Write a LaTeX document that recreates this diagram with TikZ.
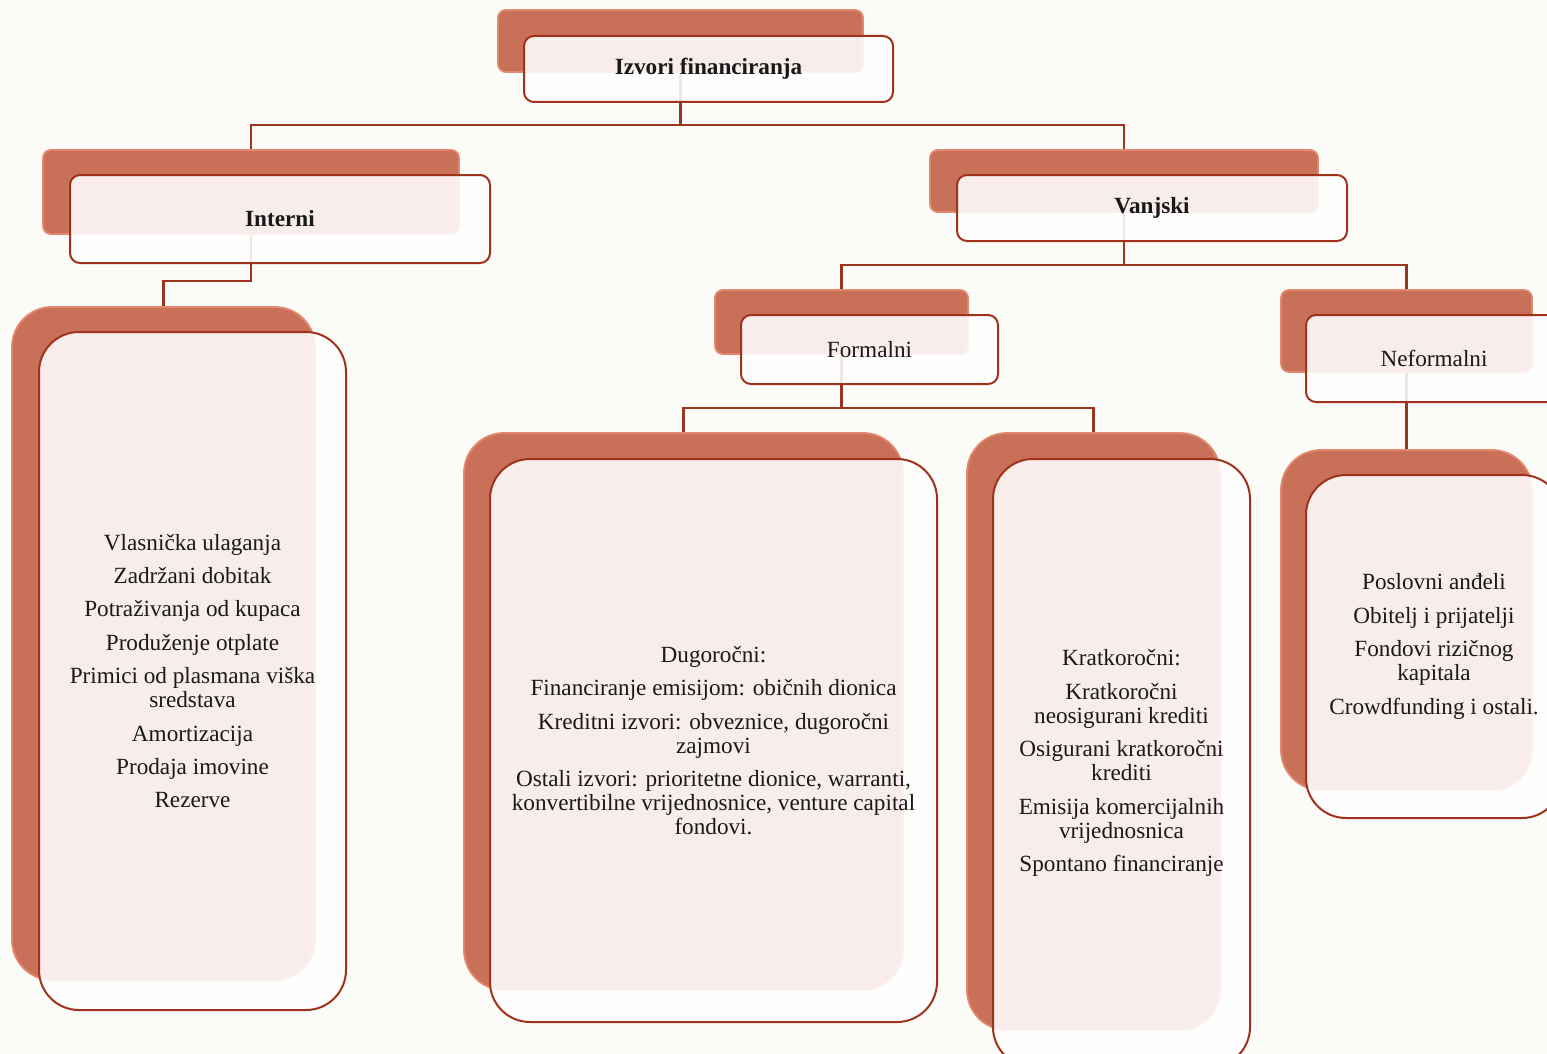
\documentclass[tikz,border=0pt]{standalone}
\usepackage{fontspec}
\setmainfont{Liberation Serif}

\definecolor{bgcream}{RGB}{251,251,247}
\definecolor{backorange}{RGB}{201,112,88}
\definecolor{backedge}{RGB}{226,136,110}
\definecolor{framered}{RGB}{160,50,28}
\definecolor{linkred}{RGB}{156,52,30}
\definecolor{inkgrey}{RGB}{25,25,25}

\begin{document}
\begin{tikzpicture}[x=0.5pt,y=-0.5pt,
  backbox/.style={draw=backedge,line width=0.9pt,fill=backorange,rounded corners=4pt,inner sep=0pt},
  backlist/.style={backbox,rounded corners=20pt},
  frontbox/.style={draw=framered,line width=1pt,fill=white,fill opacity=0.88,text opacity=1,draw opacity=1,rounded corners=5pt,inner sep=0pt,align=center,text=inkgrey,font=\fontsize{11.6}{12}\selectfont},
  frontlist/.style={frontbox,rounded corners=20pt},
  link/.style={draw=linkred,line width=1.4pt}]
\useasboundingbox (0,0) rectangle (1547,1054);
\clip (0,0) rectangle (1547,1054);
\fill[bgcream] (0,0) rectangle (1547,1054);

% back boxes
\node[backbox,minimum width=182.5pt,minimum height=31pt] (iz_back) at (680.5,41) {};
\node[backbox,minimum width=208pt,minimum height=42pt] (in_back) at (251,192) {};
\node[backbox,minimum width=194pt,minimum height=31pt] (va_back) at (1124,181) {};
\node[backbox,minimum width=126.5pt,minimum height=32pt] (fo_back) at (841.5,322) {};
\node[backbox,minimum width=125.5pt,minimum height=41pt] (ne_back) at (1406.5,331) {};
\node[backlist,minimum width=151.5pt,minimum height=336.5pt] (inl_back) at (163.5,643.5) {};
\node[backlist,minimum width=219.5pt,minimum height=278.5pt] (du_back) at (683.5,711.5) {};
\node[backlist,minimum width=126.5pt,minimum height=298.5pt] (kr_back) at (1093.5,731.5) {};
\node[backlist,minimum width=125.5pt,minimum height=170pt] (nel_back) at (1406.5,620) {};

% connectors
\coordinate (lvl_a) at (0,125);
\coordinate (lvl_b) at (0,281);
\coordinate (lvl_c) at (0,265);
\coordinate (lvl_d) at (0,408);
\draw[link] (iz_back.south) -- (iz_back.south |- lvl_a) -| (in_back.north);
\draw[link] (iz_back.south |- lvl_a) -| (va_back.north);
\draw[link] (in_back.south) -- (in_back.south |- lvl_b) -| (inl_back.north);
\draw[link] (va_back.south) -- (va_back.south |- lvl_c) -| (fo_back.north);
\draw[link] (va_back.south |- lvl_c) -| (ne_back.north);
\draw[link] (fo_back.south) -- (fo_back.south |- lvl_d) -| (du_back.north);
\draw[link] (fo_back.south |- lvl_d) -| (kr_back.north);
\draw[link] (ne_back.south) -- (nel_back.north);

% front boxes
\node[frontbox,minimum width=184.5pt,minimum height=33pt] (iz_front) at (708.5,69) {\textbf{Izvori financiranja}};
\node[frontbox,minimum width=210pt,minimum height=44pt] (in_front) at (280,219) {\textbf{Interni}};
\node[frontbox,minimum width=195pt,minimum height=33pt] (va_front) at (1152,208) {\textbf{Vanjski}};
\node[frontbox,minimum width=128.5pt,minimum height=34.5pt] (fo_front) at (869.5,349.5) {Formalni};
\node[frontbox,minimum width=128pt,minimum height=43.5pt] (ne_front) at (1434,358.5) {Neformalni};
\node[frontlist,minimum width=153.5pt,minimum height=339pt] (inl_front) at (192.5,671) {Vlasnička ulaganja\\[4.7pt]Zadržani dobitak\\[4.7pt]Potraživanja od kupaca\\[4.7pt]Produženje otplate\\[4.7pt]Primici od plasmana viška\\sredstava\\[4.7pt]Amortizacija\\[4.7pt]Prodaja imovine\\[4.7pt]Rezerve};
\node[frontlist,minimum width=223.5pt,minimum height=281.5pt] (du_front) at (713.5,740.5) {Dugoročni:\\[4.7pt]Financiranje emisijom: običnih dionica\\[4.7pt]Kreditni izvori: obveznice, dugoročni\\zajmovi\\[4.7pt]Ostali izvori: prioritetne dionice, warranti,\\konvertibilne vrijednosnice, venture capital\\fondovi.};
\node[frontlist,minimum width=128.5pt,minimum height=304pt] (kr_front) at (1121.5,763) {Kratkoročni:\\[4.7pt]Kratkoročni\\neosigurani krediti\\[4.7pt]Osigurani kratkoročni\\krediti\\[4.7pt]Emisija komercijalnih\\vrijednosnica\\[4.7pt]Spontano financiranje};
\node[frontlist,minimum width=128pt,minimum height=171.5pt] (nel_front) at (1434,646.5) {Poslovni anđeli\\[4.7pt]Obitelj i prijatelji\\[4.7pt]Fondovi rizičnog\\kapitala\\[4.7pt]Crowdfunding i ostali.};
\end{tikzpicture}
\end{document}
